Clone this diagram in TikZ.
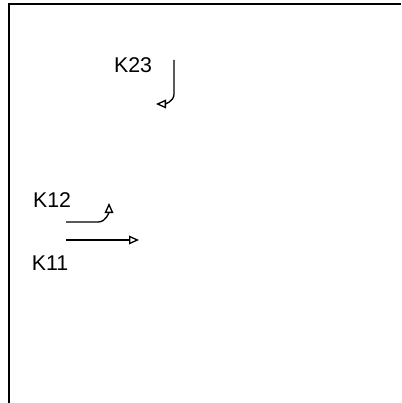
\documentclass[tikz,border=0pt]{standalone}
\usepackage{fontspec}
\setmainfont{Liberation Sans}
\usetikzlibrary{arrows.meta}

\begin{document}
\begin{tikzpicture}[x=0.75pt,y=-0.75pt,->,>={Triangle[open,length=7.5pt,width=6.5pt]},line width=1pt,
    font=\fontsize{16}{18}\selectfont]
    \useasboundingbox (0,0) rectangle (401,403);

    % Frame
    \draw[-,line width=1.8pt] (9,403) -- (9,4) -- (401,4);

    % Labels
    \node (k23) at (133,65) {K23};
    \node (k12) at (52,200) {K12};
    \node (k11) at (50,263) {K11};

    % Arrow ends
    \coordinate (s23) at (174,60);
    \coordinate (e23) at (156,104);
    \coordinate (s12) at (66,222);
    \coordinate (e12) at (109,203);
    \coordinate (s11) at (66,240);
    \coordinate (e11) at (139,240);

    % Arrows
    \draw (s23) -- (174,94) to[out=-90,in=0] (e23);
    \draw (s12) -- (98,222) to[out=0,in=-90] (e12);
    \draw (s11) -- (e11);
\end{tikzpicture}
\end{document}
